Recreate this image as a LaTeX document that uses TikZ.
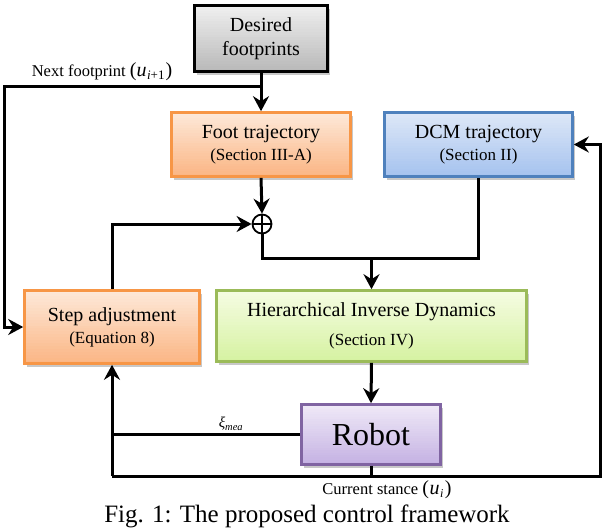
\documentclass[tikz,border=0pt]{standalone}
\usepackage{fontspec}
\setmainfont{Liberation Serif}
\usetikzlibrary{arrows.meta,shadows,calc}
\definecolor{orB}{HTML}{F79646}
\definecolor{orT}{HTML}{FDE8D8}
\definecolor{orM}{HTML}{FBB685}
\definecolor{blB}{HTML}{4F81BD}
\definecolor{blT}{HTML}{DDE7F7}
\definecolor{blM}{HTML}{A6C3EF}
\definecolor{grB}{HTML}{9BBB59}
\definecolor{grT}{HTML}{F5FCE2}
\definecolor{grM}{HTML}{D6F2A2}
\definecolor{puB}{HTML}{8064A2}
\definecolor{puT}{HTML}{EFE9F7}
\definecolor{puM}{HTML}{C5B2E3}
\definecolor{gyT}{HTML}{EFEFEF}
\definecolor{gyM}{HTML}{B9B9B9}
\definecolor{shd}{HTML}{C8C8C8}
\begin{document}
\begin{tikzpicture}[x=1pt,y=-1pt,
  box/.style={draw, line width=2.6pt, inner sep=0pt, align=center,
    drop shadow={shadow xshift=2pt, shadow yshift=-3pt, fill=shd, opacity=1}},
  grad/.style n args={2}{path picture={
    \foreach \i in {0,...,24}{
      \pgfmathtruncatemacro\pct{\i*100/24}
      \fill[#2!\pct!#1] ($(path picture bounding box.north west)!{\i/25}!(path picture bounding box.south west)$)
        rectangle ($(path picture bounding box.north east)!{(\i+1.6)/25}!(path picture bounding box.south east)$);
    }}},
  mainf/.style={font=\rmfamily\fontsize{20}{22}\selectfont},
  arr/.style={line width=3pt, -{Stealth[length=15pt,width=16pt,inset=5pt]}},
  ln/.style={line width=3pt},
  lab/.style={inner sep=0pt},
  sumnode/.style={circle, draw, fill=white, line width=1.8pt, minimum size=19pt, inner sep=0pt,
    path picture={\draw[line width=1.6pt] (path picture bounding box.north) -- (path picture bounding box.south)
      (path picture bounding box.west) -- (path picture bounding box.east);}}
]
\useasboundingbox (0,0) rectangle (606,530);

% boxes
\node[box, draw=black, grad={gyT}{gyM}, minimum width=133pt, minimum height=66pt,
  font=\rmfamily\fontsize{20}{24}\selectfont] (des) at (261,38.5) {Desired\\footprints};
\node[box, draw=orB, grad={orT}{orM}, minimum width=179pt, minimum height=64pt, mainf]
  (foot) at (261,144.5) {Foot trajectory\\\fontsize{17}{22}\selectfont (Section III-A)};
\node[box, draw=blB, grad={blT}{blM}, minimum width=188pt, minimum height=64pt, mainf]
  (dcm) at (478.5,144.5) {DCM trajectory\\\fontsize{17}{22}\selectfont (Section II)};
\node[box, draw=orB, grad={orT}{orM}, minimum width=175pt, minimum height=73pt, mainf]
  (step) at (112,327) {Step adjustment\\\fontsize{17}{22}\selectfont (Equation 8)};
\node[box, draw=grB, grad={grT}{grM}, minimum width=310pt, minimum height=71pt, mainf]
  (hid) at (371.5,326) {Hierarchical Inverse Dynamics\\[7pt]\fontsize{17}{22}\selectfont (Section IV)};
\node[box, draw=puB, grad={puT}{puM}, minimum width=139pt, minimum height=60pt,
  font=\rmfamily\fontsize{32}{36}\selectfont] (robot) at (371,434.5) {Robot};
\node[sumnode] (sum) at (262,224) {};

% coordinates
\coordinate (j1) at (262,86);
\coordinate (lc) at (4,86);
\coordinate (lb) at (4,327);
\coordinate (j2) at (262,258);
\coordinate (rc) at (600,144.5);

% connectors
\draw[arr] (des.south) -- (foot.north);
\draw[arr] (j1) -- (lc) -- (lb) -- (step.west);
\draw[arr] (foot.south) -- (sum.north);
\draw[arr] (step.north) |- (sum.west);
\draw[ln] (sum.south) |- (dcm.south |- j2) -- (dcm.south);
\draw[arr] (hid.north |- j2) -- (hid.north);
\draw[arr] (hid.south) -- (robot.north);
\draw[ln] (robot.west) -- (step.south |- robot.west);
\draw[arr] (step.south |- 0,476) -- (step.south);
\draw[ln] (robot.south) -- (robot.south |- 0,476);
\draw[arr] (step.south |- 0,476) -| (rc) -- (dcm.east);

% labels
\node[lab, font=\fontsize{16.5}{18}\selectfont] (nfl) at (102,72)
  {Next footprint {\fontsize{20}{20}\selectfont(\textit{u}\kern0.5pt\raisebox{-3pt}{\fontsize{13}{13}\selectfont\textit{i}+1}\kern1pt)}};
\node[lab, font=\fontsize{15}{17}\selectfont] (xil) at (231,424) {\textit{ξ}\textsubscript{\textit{mea}}};
\node[lab, font=\fontsize{16.5}{18}\selectfont] (csl) at (387,490)
  {Current stance {\fontsize{20}{20}\selectfont(\kern0.5pt\textit{u}\kern0.5pt\raisebox{-3pt}{\fontsize{12}{12}\selectfont\textit{i}}\kern1.5pt)}};
\node[lab, font=\fontsize{25}{28}\selectfont] (cap) at (307,516) {Fig. 1: The proposed control framework};
\end{tikzpicture}
\end{document}
